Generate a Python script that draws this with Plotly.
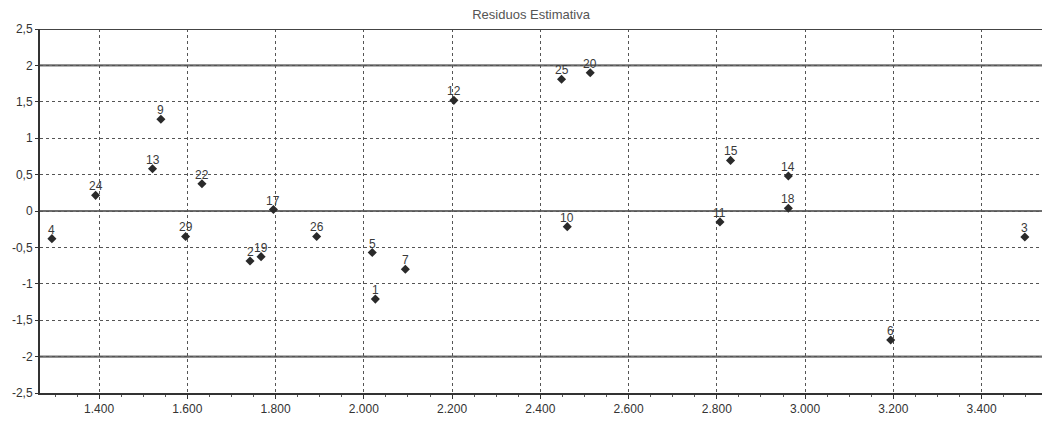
import plotly.graph_objects as go

# Data
obs_labels = ["4", "24", "13", "9", "29", "22", "2", "19", "17", "26", "5", "1", "7",
              "12", "25", "10", "20", "11", "15", "14", "18", "6", "3"]
estimativa = [1293, 1392, 1521, 1540, 1596, 1633, 1742, 1767, 1795, 1893, 2019, 2026, 2094,
              2204, 2448, 2461, 2513, 2807, 2831, 2962, 2962, 3194, 3498]
residuos = [-0.38, 0.215, 0.58, 1.26, -0.35, 0.375, -0.686, -0.627, 0.02, -0.35, -0.57, -1.21, -0.80,
            1.52, 1.81, -0.215, 1.90, -0.15, 0.695, 0.48, 0.037, -1.773, -0.357]
limit_lines = [-2, 0, 2]
y_ticks = [-2.5, -2, -1.5, -1, -0.5, 0, 0.5, 1, 1.5, 2, 2.5]
y_tick_text = ["-2,5", "-2", "-1,5", "-1", "-0,5", "0", "0,5", "1", "1,5", "2", "2,5"]

FONT = "Arial, Liberation Sans, sans-serif"

fig = go.Figure()

fig.add_trace(go.Scatter(
    x=estimativa, y=residuos, mode="markers",
    marker=dict(symbol="diamond", size=7, color="#2a2a2a"),
    cliponaxis=False, showlegend=False,
))

for xv, yv, lab in zip(estimativa, residuos, obs_labels):
    fig.add_annotation(x=xv, y=yv, text=lab, showarrow=False,
                       xanchor="center", yanchor="bottom", yshift=0,
                       font=dict(family=FONT, size=12, color="#3a3a3a"))

for v in limit_lines:
    fig.add_hline(y=v, line=dict(color="#6e6e6e", width=2.2), layer="below")

fig.update_layout(
    width=1042, height=413,
    margin=dict(l=32, r=0, t=21, b=28, autoexpand=False),
    paper_bgcolor="white", plot_bgcolor="white",
    separators=",.",
    title=dict(text="Residuos Estimativa", x=0.502, xanchor="center",
               y=0.985, yanchor="middle", automargin=False,
               font=dict(family=FONT, size=13, color="#555")),
    font=dict(family=FONT, size=12, color="#333"),
)

fig.update_xaxes(
    range=[1266, 3555], tick0=1400, dtick=200, tickformat=",.0f",
    showgrid=True, gridcolor="#555", griddash="dot", gridwidth=1,
    showline=True, linecolor="#333", linewidth=2, mirror=False,
    ticks="outside", ticklen=4, tickcolor="#333",
    minor=dict(ticks="outside", ticklen=2, dtick=50, tickcolor="#555", showgrid=False),
    zeroline=False, automargin=False, tickfont=dict(size=12, color="#333"),
)
fig.update_yaxes(
    range=[-2.5, 2.5], tickvals=y_ticks, ticktext=y_tick_text,
    showgrid=True, gridcolor="#555", griddash="dot", gridwidth=1,
    showline=True, linecolor="#333", linewidth=2,
    ticks="outside", ticklen=3, tickcolor="#333",
    zeroline=False, automargin=False, tickfont=dict(size=12, color="#333"),
)

# top border line
fig.add_hline(y=2.5, line=dict(color="#444", width=2))

fig.write_html("out.html")
